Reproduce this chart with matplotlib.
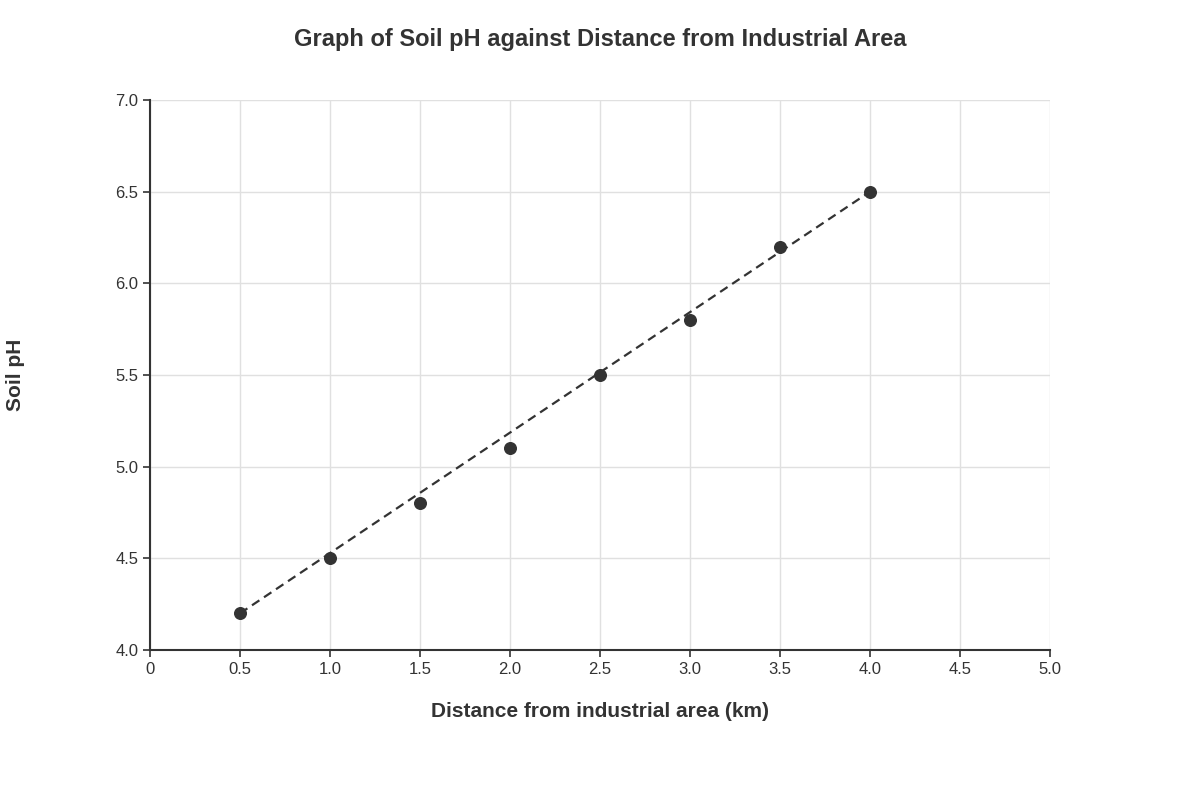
import matplotlib
matplotlib.use("Agg")
import matplotlib.pyplot as plt

plt.rcParams['font.family'] = ['Liberation Sans', 'DejaVu Sans']

distance = [0.5, 1.0, 1.5, 2.0, 2.5, 3.0, 3.5, 4.0]
ph = [4.2, 4.5, 4.8, 5.1, 5.5, 5.8, 6.2, 6.5]
trend_x = [0.5, 4.0]
trend_y = [4.2, 6.5]
xticks = [0, 0.5, 1.0, 1.5, 2.0, 2.5, 3.0, 3.5, 4.0, 4.5, 5.0]
xlabels = ['0', '0.5', '1.0', '1.5', '2.0', '2.5', '3.0', '3.5', '4.0', '4.5', '5.0']
yticks = [4.0, 4.5, 5.0, 5.5, 6.0, 6.5, 7.0]

fig = plt.figure(figsize=(12, 8), dpi=100)
ax = fig.add_axes([0.125, 0.1875, 0.75, 0.6875])
ax.plot(trend_x, trend_y, linestyle=(0, (4, 2.5)), color='#333333', linewidth=1.6, zorder=3)
ax.scatter(distance, ph, s=70, color='#333333', zorder=4)
ax.set_xlim(0, 5)
ax.set_ylim(4, 7)
ax.set_xticks(xticks)
ax.set_xticklabels(xlabels)
ax.set_yticks(yticks)
ax.set_yticklabels([f"{v:.1f}" for v in yticks])
ax.grid(True, color='#e0e0e0', linewidth=1)
ax.set_axisbelow(True)
for s in ['top', 'right']:
    ax.spines[s].set_visible(False)
for s in ['left', 'bottom']:
    ax.spines[s].set_color('#333333')
    ax.spines[s].set_linewidth(1.5)
ax.tick_params(colors='#333333', labelsize=12, length=5, width=1.2)
ax.set_xlabel('Distance from industrial area (km)', fontsize=15, fontweight='bold', color='#333333', labelpad=18)
ax.set_ylabel('Soil pH', fontsize=15, fontweight='bold', color='#333333', labelpad=65)
fig.suptitle('Graph of Soil pH against Distance from Industrial Area', fontsize=17, fontweight='bold', color='#333333', y=0.965)
fig.savefig('out.png', dpi=100, facecolor='white')
